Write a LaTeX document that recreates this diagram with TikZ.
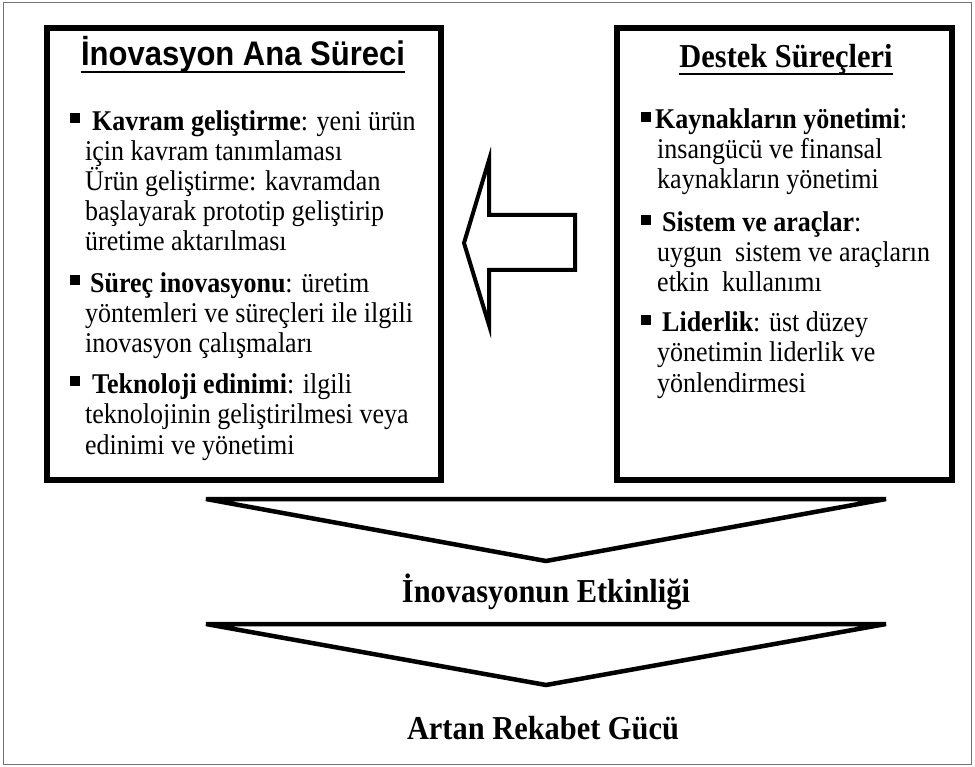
\documentclass[tikz,border=0pt]{standalone}
\usepackage{graphicx}
\usepackage{fontspec}
\setmainfont{Liberation Serif}
\newfontfamily\arialf{Liberation Sans}
\newcommand{\vstr}[1]{\scalebox{1}[1.1]{#1}}
\begin{document}
\begin{tikzpicture}[x=1pt,y=-1pt,
  txt/.style={anchor=base west,inner sep=0pt,font=\fontsize{26}{30}\selectfont},
  ttl/.style={anchor=base,inner sep=0pt},
  bul/.style={rectangle,fill=black,inner sep=0pt,minimum size=9.5pt,anchor=north west},
  heavybox/.style={draw=black,line width=6pt},
  outl/.style={draw=black,line width=4.5pt,line join=miter},
  uline/.style={line width=2pt}]
\useasboundingbox (0,0) rectangle (975,767);
\draw[black!55,line width=1.5pt] (3.5,2.5) rectangle (971.5,764.5);

% boxes
\draw[heavybox] (47,28) rectangle (441,480);
\draw[heavybox] (617,28) rectangle (952,480);

% left title
\node[ttl,font=\arialf\bfseries\fontsize{31}{35}\selectfont] (t1) at (243,66) {\vstr{İnovasyon Ana Süreci}};
\draw[uline] ([yshift=-6pt]t1.base west) -- ([yshift=-6pt]t1.base east);
% right title
\node[ttl,font=\bfseries\fontsize{30.4}{34}\selectfont] (t2) at (786,68) {\vstr{Destek Süreçleri}};
\draw[uline] ([yshift=-6pt]t2.base west) -- ([yshift=-6pt]t2.base east);

% left bullets
\node[bul] (lb1) at (70,113) {};
\node[txt] (l1) at (92,131) {\vstr{\textbf{Kavram geliştirme}: yeni ürün}};
\node[txt] (l2) at (85,161) {\vstr{için kavram tanımlaması}};
\node[txt] (l3) at (85,191) {\vstr{Ürün geliştirme: kavramdan}};
\node[txt] (l4) at (85,221) {\vstr{başlayarak prototip geliştirip}};
\node[txt] (l5) at (85,251) {\vstr{üretime aktarılması}};
\node[bul] (lb2) at (70,275) {};
\node[txt] (l6) at (90,293) {\vstr{\textbf{Süreç inovasyonu}: üretim}};
\node[txt] (l7) at (85,323) {\vstr{yöntemleri ve süreçleri ile ilgili}};
\node[txt] (l8) at (85,353) {\vstr{inovasyon çalışmaları}};
\node[bul] (lb3) at (70,376) {};
\node[txt] (l9) at (92,394) {\vstr{\textbf{Teknoloji edinimi}: ilgili}};
\node[txt] (l10) at (85,424) {\vstr{teknolojinin geliştirilmesi veya}};
\node[txt] (l11) at (85,454) {\vstr{edinimi ve yönetimi}};

% right bullets
\node[bul] (rb1) at (641,112) {};
\node[txt] (r1) at (655,129) {\vstr{\textbf{Kaynakların yönetimi}:}};
\node[txt] (r2) at (657,159) {\vstr{insangücü ve finansal}};
\node[txt] (r3) at (657,189) {\vstr{kaynakların yönetimi}};
\node[bul] (rb2) at (641,215) {};
\node[txt] (r4) at (662,232) {\vstr{\textbf{Sistem ve araçlar}:}};
\node[txt] (r5) at (657,262) {\vstr{uygun\ \ sistem ve araçların}};
\node[txt] (r6) at (657,292) {\vstr{etkin\ \ kullanımı}};
\node[bul] (rb3) at (641,315) {};
\node[txt] (r7) at (662,332) {\vstr{\textbf{Liderlik}: üst düzey}};
\node[txt] (r8) at (657,362) {\vstr{yönetimin liderlik ve}};
\node[txt] (r9) at (657,392) {\vstr{yönlendirmesi}};

% left arrow
\draw[outl,line width=4pt] (464,243) -- (489,160) -- (489,215) -- (575,215) -- (575,270) -- (489,270) -- (489,325) -- cycle;

% chevrons
\draw[outl] (206,499) -- (886,499) -- (546,561) -- cycle;
\node[ttl,font=\bfseries\fontsize{30.4}{34}\selectfont] (e1) at (546,602) {\vstr{İnovasyonun Etkinliği}};
\draw[outl] (206,624) -- (886,624) -- (546,685) -- cycle;
\node[ttl,font=\bfseries\fontsize{30.4}{34}\selectfont] (e2) at (543,739) {\vstr{Artan Rekabet Gücü}};
\end{tikzpicture}
\end{document}
